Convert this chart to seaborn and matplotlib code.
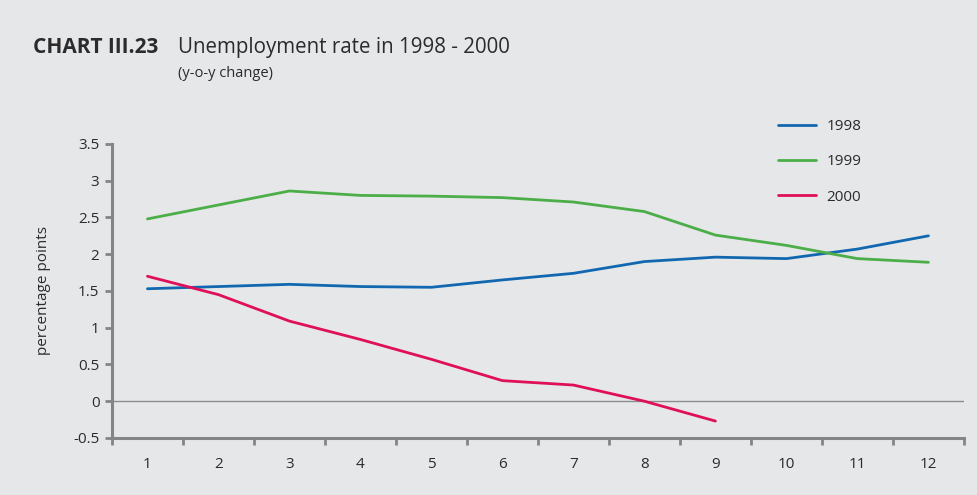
import matplotlib
matplotlib.use("Agg")
import matplotlib.pyplot as plt
import seaborn as sns
import pandas as pd
import numpy as np

# Monthly y-o-y change in the unemployment rate (percentage points)
months = list(range(1, 13))
rate_1998 = [1.53, 1.56, 1.59, 1.56, 1.55, 1.65, 1.74, 1.90, 1.96, 1.94, 2.07, 2.25]
rate_1999 = [2.48, 2.67, 2.86, 2.80, 2.79, 2.77, 2.71, 2.58, 2.26, 2.12, 1.94, 1.89]
rate_2000 = [1.70, 1.45, 1.09, 0.84, 0.57, 0.28, 0.22, 0.00, -0.27]
series_names = ["1998", "1999", "2000"]
colors = ["#1268b0", "#4bae48", "#df0f5a"]
y_ticks = [-0.5, 0, 0.5, 1, 1.5, 2, 2.5, 3, 3.5]
y_tick_labels = ["-0.5", "0", "0.5", "1", "1.5", "2", "2.5", "3", "3.5"]

frames = []
for name, vals in zip(series_names, [rate_1998, rate_1999, rate_2000]):
    frames.append(pd.DataFrame({"month": months[:len(vals)], "value": vals, "year": name}))
df = pd.concat(frames, ignore_index=True)

bg = "#e6e7e9"
axis_grey = "#858585"
text_col = "#2b2b2b"

sns.set_style("white")
plt.rcParams["font.family"] = ["Open Sans", "DejaVu Sans"]

fig = plt.figure(figsize=(9.77, 4.95), dpi=100, facecolor=bg)
ax = fig.add_axes([0.1146, 0.1152, 0.872, 0.594])
ax.set_facecolor(bg)

sns.lineplot(data=df, x="month", y="value", hue="year", palette=colors,
             linewidth=2.0, ax=ax, legend=False)

ax.axhline(0, color="#8c8c8c", linewidth=1.0, zorder=0)

ax.set_xlim(0.5, 12.5)
ax.set_ylim(-0.5, 3.5)

# category boundaries carry the tick marks, centres carry the labels
ax.set_xticks(np.arange(0.5, 13, 1))
ax.set_xticklabels([])
ax.set_xticks(months, minor=True)
ax.set_xticklabels([str(m) for m in months], minor=True)
ax.tick_params(axis="x", which="major", bottom=True, direction="out", length=5, width=2,
               color=axis_grey)
ax.tick_params(axis="x", which="minor", bottom=True, length=0, pad=14, labelsize=11,
               labelcolor=text_col)

ax.set_yticks(y_ticks)
ax.set_yticklabels(y_tick_labels)
ax.tick_params(axis="y", left=True, direction="out", length=5, width=2, color=axis_grey,
               labelsize=11, labelcolor=text_col, pad=4)

for side in ["top", "right"]:
    ax.spines[side].set_visible(False)
for side in ["left", "bottom"]:
    ax.spines[side].set_color(axis_grey)
    ax.spines[side].set_linewidth(2.2)

ax.set_xlabel("")
ax.set_ylabel("percentage points", fontsize=11, color=text_col, labelpad=16)

handles = [plt.Line2D([], [], color=c, linewidth=2.0) for c in colors]
fig.legend(handles, series_names, loc="upper left", bbox_to_anchor=(0.789, 0.775),
           frameon=False, fontsize=11, handlelength=2.45, handletextpad=0.7,
           labelspacing=1.33, borderpad=0, labelcolor=text_col)

fig.text(0.034, 0.905, "CHART III.23", fontsize=15, fontweight="bold", color=text_col, va="center")
fig.text(0.182, 0.905, "Unemployment rate in 1998 - 2000", fontsize=14.8, color=text_col, va="center")
fig.text(0.182, 0.852, "(y-o-y change)", fontsize=10.5, color=text_col, va="center")

fig.savefig("out.png", dpi=100, facecolor=bg)
